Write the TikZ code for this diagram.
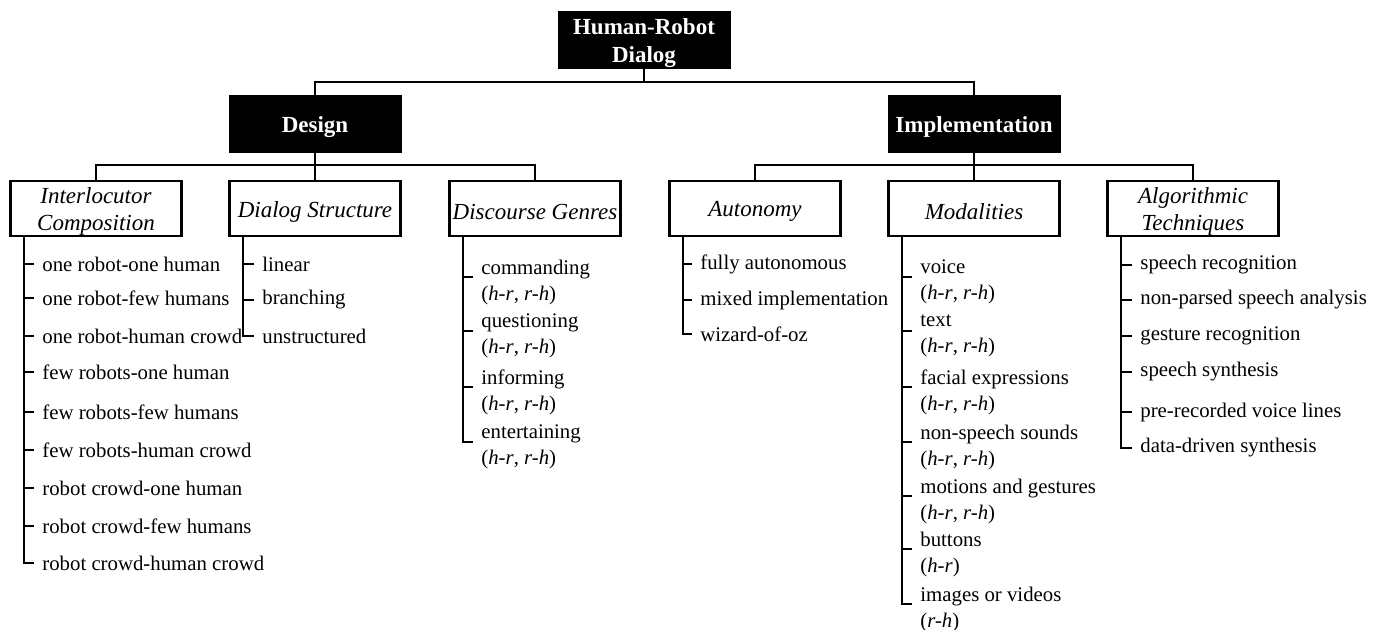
\documentclass[tikz,border=0pt]{standalone}
\usepackage{fontspec}
\setmainfont{Liberation Serif}
\usetikzlibrary{calc}
% lower a line of text inside its box without changing the box extents
\newcommand\dnline[1]{\raisebox{-1.6pt}[\height][\depth]{#1}}
\begin{document}
\begin{tikzpicture}[x=0.5pt,y=-0.5pt,
  headbox/.style={fill=black,draw=black,text=white,
    font=\fontsize{11.5}{14}\selectfont\bfseries,
    minimum width=86pt,minimum height=28.5pt,inner sep=0pt,align=center},
  catbox/.style={draw=black,line width=1.3pt,fill=white,
    font=\fontsize{11.5}{13.5}\selectfont\itshape,
    minimum width=85.5pt,minimum height=27.5pt,inner sep=0pt,align=center},
  item/.style={anchor=west,inner xsep=4pt,inner ysep=0pt,
    font=\fontsize{10.4}{13}\selectfont,align=left},
  link/.style={line width=1pt}]
\useasboundingbox (0,0) rectangle (1380,629);

% top levels
\node[headbox] (root) at (644,40) {\dnline{Human-Robot}\\\dnline{Dialog}};
\node[headbox] (design) at (315,123.5) {\dnline{Design}};
\node[headbox] (impl) at (974,123.5) {\dnline{Implementation}};

% categories
\node[catbox] (c1) at (96,208.5) {\dnline{Interlocutor}\\\dnline{Composition}};
\node[catbox] (c2) at (315,208.5) {\dnline{Dialog Structure}};
\node[catbox] (c3) at (535,208.5) {\dnline{Discourse Genres}};
\node[catbox] (c4) at (755,208.5) {\dnline{Autonomy}};
\node[catbox] (c5) at (974,208.5) {\dnline{Modalities}};
\node[catbox] (c6) at (1193,208.5) {\dnline{Algorithmic}\\\dnline{Techniques}};

% tree connectors
\coordinate (b0) at ($(root.south)+(0,13)$);
\draw[link] (root.south) -- (b0) -| (design.north);
\draw[link] (b0) -| (impl.north);
\coordinate (b1) at ($(design.south)+(0,13)$);
\draw[link] (design.south) -- (b1) -| (c1.north);
\draw[link] (b1) -| (c3.north);
\draw[link] (design.south) -- (c2.north);
\coordinate (b2) at ($(impl.south)+(0,13)$);
\draw[link] (impl.south) -- (b2) -| (c4.north);
\draw[link] (b2) -| (c6.north);
\draw[link] (impl.south) -- (c5.north);

% spines under each category
\foreach \k in {1,...,6}
  \coordinate (s\k) at ($(c\k.south west)+(15,0)$);

% Interlocutor Composition
\node[item] (i1a) at (34,264) {one robot-one human};
\node[item] (i1b) at (34,298) {one robot-few humans};
\node[item] (i1c) at (34,336) {one robot-human crowd};
\node[item] (i1d) at (34,372) {few robots-one human};
\node[item] (i1e) at (34,412) {few robots-few humans};
\node[item] (i1f) at (34,450) {few robots-human crowd};
\node[item] (i1g) at (34,488) {robot crowd-one human};
\node[item] (i1h) at (34,526) {robot crowd-few humans};
\node[item] (i1i) at (34,563) {robot crowd-human crowd};
\draw[link] (s1) |- (i1i.west);
\foreach \n in {a,b,c,d,e,f,g,h}
  \draw[link] (i1\n.west) -- (i1\n.west -| s1);

% Dialog Structure
\node[item] (i2a) at (254,264) {linear};
\node[item] (i2b) at (254,300) {branching};
\node[item] (i2c) at (254,336) {unstructured};
\draw[link] (s2) |- (i2c.west);
\foreach \n in {a,b}
  \draw[link] (i2\n.west) -- (i2\n.west -| s2);

% two-line entries: the tick sits a little above the middle of the entry
\tikzset{tick/.style={yshift=2.5pt}}

% Discourse Genres
\node[item] (i3a) at (473,282) {commanding\\(\textit{h-r}, \textit{r-h})};
\node[item] (i3b) at (473,336) {questioning\\(\textit{h-r}, \textit{r-h})};
\node[item] (i3c) at (473,392) {informing\\(\textit{h-r}, \textit{r-h})};
\node[item] (i3d) at (473,447) {entertaining\\(\textit{h-r}, \textit{r-h})};
\draw[link] (s3) |- ([tick]i3d.west);
\foreach \n in {a,b,c}
  \draw[link] ([tick]i3\n.west) -- ([tick]i3\n.west -| s3);

% Autonomy
\node[item] (i4a) at (692,264) {fully autonomous};
\node[item] (i4b) at (692,300) {mixed implementation};
\node[item] (i4c) at (692,334) {wizard-of-oz};
\draw[link] (s4) |- (i4c.west);
\foreach \n in {a,b}
  \draw[link] (i4\n.west) -- (i4\n.west -| s4);

% Modalities
\node[item] (i5a) at (912,282) {voice\\(\textit{h-r}, \textit{r-h})};
\node[item] (i5b) at (912,336) {text\\(\textit{h-r}, \textit{r-h})};
\node[item] (i5c) at (912,392) {facial expressions\\(\textit{h-r}, \textit{r-h})};
\node[item] (i5d) at (912,447) {non-speech sounds\\(\textit{h-r}, \textit{r-h})};
\node[item] (i5e) at (912,501) {motions and gestures\\(\textit{h-r}, \textit{r-h})};
\node[item] (i5f) at (912,554) {buttons\\(\textit{h-r})};
\node[item] (i5g) at (912,609) {images or videos\\(\textit{r-h})};
\draw[link] (s5) |- ([tick]i5g.west);
\foreach \n in {a,b,c,d,e,f}
  \draw[link] ([tick]i5\n.west) -- ([tick]i5\n.west -| s5);

% Algorithmic Techniques
\node[item] (i6a) at (1132,265) {speech recognition};
\node[item] (i6b) at (1132,300) {non-parsed speech analysis};
\node[item] (i6c) at (1132,336) {gesture recognition};
\node[item] (i6d) at (1132,372) {speech synthesis};
\node[item] (i6e) at (1132,412) {pre-recorded voice lines};
\node[item] (i6f) at (1132,448) {data-driven synthesis};
\draw[link] (s6) |- (i6f.west);
\foreach \n in {a,b,c,d,e}
  \draw[link] (i6\n.west) -- (i6\n.west -| s6);
\end{tikzpicture}
\end{document}
